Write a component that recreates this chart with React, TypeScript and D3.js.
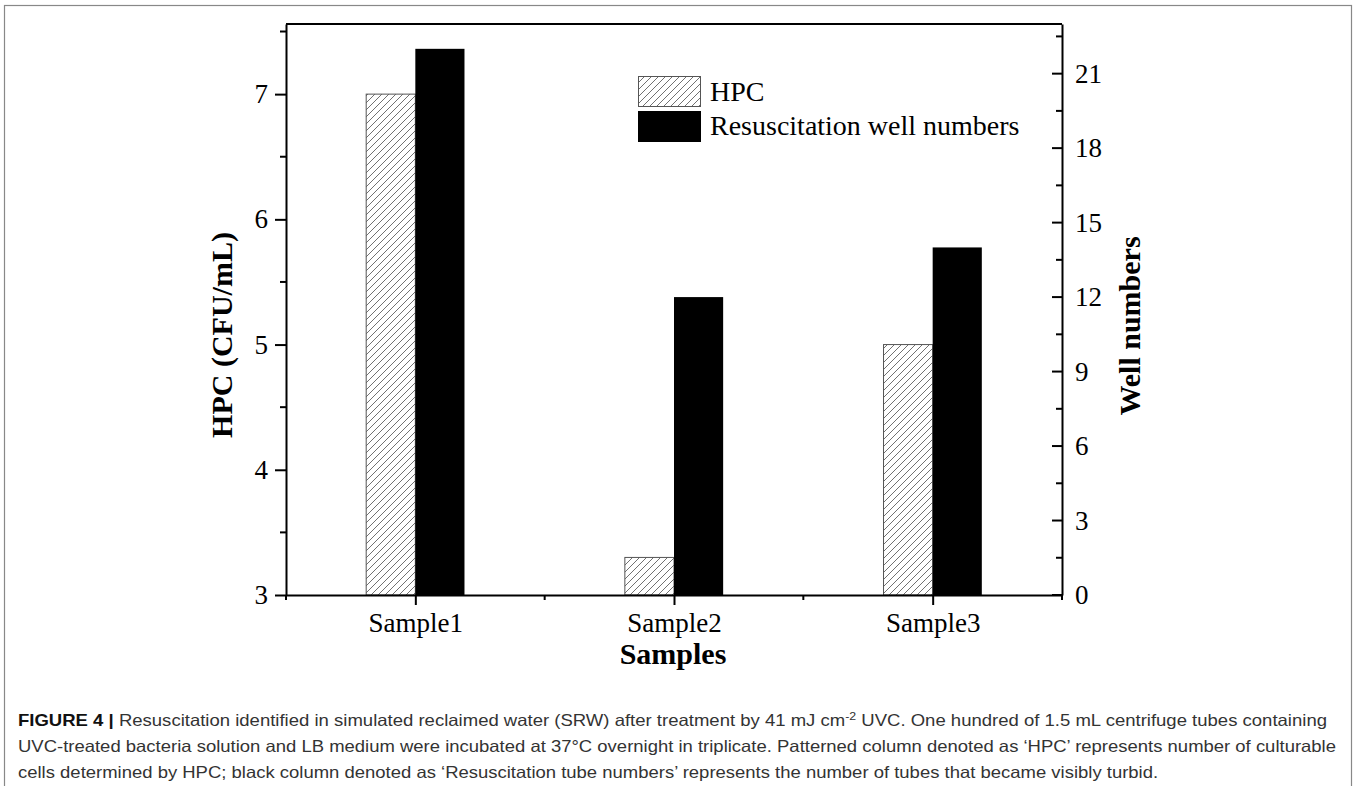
import { useEffect, useRef } from 'react';
import * as d3 from 'd3';

const samples = ['Sample1', 'Sample2', 'Sample3'];
const hpcValues = [7.0, 3.3, 5.0];
const wellValues = [22, 12, 14];
const leftTicks = [3, 4, 5, 6, 7];
const rightTicks = [0, 3, 6, 9, 12, 15, 18, 21];
const legendLabels = ['HPC', 'Resuscitation well numbers'];
const captionLines = [
  ['Resuscitation identified in simulated reclaimed water (SRW) after treatment by 41 mJ cm', '-2', ' UVC. One hundred of 1.5 mL centrifuge tubes containing'],
  ['UVC-treated bacteria solution and LB medium were incubated at 37°C overnight in triplicate. Patterned column denoted as ‘HPC’ represents number of culturable'],
  ['cells determined by HPC; black column denoted as ‘Resuscitation tube numbers’ represents the number of tubes that became visibly turbid.'],
];

const W = 1359;
const H = 786;
const serif = '"Liberation Serif", "Times New Roman", serif';

const App = () => {
  const ref = useRef<SVGSVGElement>(null);

  useEffect(() => {
    const svg = d3.select(ref.current);
    svg.selectAll('*').remove();

    const left = 286, right = 1062, top = 24, bottom = 595;

    const x = d3.scaleLinear().domain([0.5, 3.5]).range([left, right]);
    const yL = d3.scaleLinear().domain([3, 7.56]).range([bottom, top]);
    const yR = d3.scaleLinear().domain([0, 23]).range([bottom, top]);
    const barW = 0.19;

    const defs = svg.append('defs');
    const pat = defs.append('pattern')
      .attr('id', 'hatch')
      .attr('patternUnits', 'userSpaceOnUse')
      .attr('width', 7).attr('height', 7);
    pat.append('rect').attr('width', 7).attr('height', 7).attr('fill', '#fff');
    pat.append('path')
      .attr('d', 'M-1,1 l2,-2 M0,7 l7,-7 M6,8 l2,-2')
      .attr('stroke', '#333').attr('stroke-width', 0.7);

    // outer frame
    svg.append('rect')
      .attr('x', 4.5).attr('y', 5.5).attr('width', 1347).attr('height', 790)
      .attr('fill', 'none').attr('stroke', '#888').attr('stroke-width', 1.2);

    // bars
    svg.selectAll('rect.hpc')
      .data(hpcValues)
      .enter().append('rect')
      .attr('class', 'hpc')
      .attr('x', (_d, i) => x(i + 1 - barW))
      .attr('y', d => yL(d))
      .attr('width', x(1) - x(1 - barW))
      .attr('height', d => bottom - yL(d))
      .attr('fill', 'url(#hatch)')
      .attr('stroke', '#555').attr('stroke-width', 1);

    svg.selectAll('rect.well')
      .data(wellValues)
      .enter().append('rect')
      .attr('class', 'well')
      .attr('x', (_d, i) => x(i + 1))
      .attr('y', d => yR(d))
      .attr('width', x(1 + barW) - x(1))
      .attr('height', d => bottom - yR(d))
      .attr('fill', '#000');

    // top border
    svg.append('line')
      .attr('x1', left).attr('x2', right).attr('y1', top).attr('y2', top)
      .attr('stroke', '#000').attr('stroke-width', 2);

    // left axis
    const gL = svg.append('g').attr('transform', `translate(${left},0)`);
    gL.call(d3.axisLeft(yL).tickValues(leftTicks).tickSize(11).tickSizeOuter(0).tickFormat(d3.format('d')));
    d3.range(3.5, 7.6, 1).forEach(v => {
      gL.append('line').attr('x1', -6).attr('x2', 0).attr('y1', yL(v)).attr('y2', yL(v)).attr('stroke', '#000').attr('stroke-width', 2);
    });

    // right axis (ticks point inward)
    const gR = svg.append('g').attr('transform', `translate(${right},0)`);
    gR.call(d3.axisRight(yR).tickValues(rightTicks).tickSize(0).tickPadding(13).tickSizeOuter(0));
    rightTicks.forEach(v => {
      gR.append('line').attr('x1', -10).attr('x2', 0).attr('y1', yR(v)).attr('y2', yR(v)).attr('stroke', '#000').attr('stroke-width', 2);
    });
    d3.range(1.5, 22.6, 3).forEach(v => {
      gR.append('line').attr('x1', -6).attr('x2', 0).attr('y1', yR(v)).attr('y2', yR(v)).attr('stroke', '#000').attr('stroke-width', 2);
    });

    // bottom axis
    const gB = svg.append('g').attr('transform', `translate(0,${bottom})`);
    gB.call(d3.axisBottom(x).tickValues([1, 2, 3]).tickSize(10).tickPadding(8).tickSizeOuter(0)
      .tickFormat((_d, i) => samples[i]));
    [0.5, 1.5, 2.5, 3.5].forEach(v => {
      gB.append('line').attr('x1', x(v)).attr('x2', x(v)).attr('y1', 0).attr('y2', 5).attr('stroke', '#000').attr('stroke-width', 2);
    });

    [gL, gR, gB].forEach(g => {
      g.selectAll('path.domain').attr('stroke', '#000').attr('stroke-width', 2);
      g.selectAll('.tick line').attr('stroke', '#000').attr('stroke-width', 2);
      g.selectAll('.tick text').attr('fill', '#000').style('font-family', serif).style('font-size', '27px');
    });
    gL.selectAll('.tick text').attr('x', -18);

    // axis titles
    svg.append('text')
      .attr('transform', `translate(232,335) rotate(-90)`)
      .attr('text-anchor', 'middle')
      .style('font-family', serif).style('font-size', '30px').style('font-weight', 'bold')
      .text('HPC (CFU/mL)');
    svg.append('text')
      .attr('transform', `translate(1140,326) rotate(-90)`)
      .attr('text-anchor', 'middle')
      .style('font-family', serif).style('font-size', '30px').style('font-weight', 'bold')
      .text('Well numbers');
    svg.append('text')
      .attr('x', 673).attr('y', 664)
      .attr('text-anchor', 'middle')
      .style('font-family', serif).style('font-size', '30px').style('font-weight', 'bold')
      .text('Samples');

    // legend
    const lg = svg.append('g');
    lg.append('rect').attr('x', 638.5).attr('y', 76.5).attr('width', 62).attr('height', 30)
      .attr('fill', 'url(#hatch)').attr('stroke', '#555').attr('stroke-width', 1);
    lg.append('rect').attr('x', 638).attr('y', 111).attr('width', 63).attr('height', 31).attr('fill', '#000');
    legendLabels.forEach((t, i) => {
      lg.append('text').attr('x', 710).attr('y', 101 + i * 34)
        .style('font-family', serif).style('font-size', '28px').text(t);
    });

    // caption (condensed to the width of the reference lines)
    const cap = svg.append('g')
      .style('font-family', '"Liberation Sans Narrow", "Liberation Sans", Arial, sans-serif')
      .style('font-size', '16.5px')
      .attr('fill', '#333');
    const texts = captionLines.map((parts, i) => {
      const t = cap.append('text').attr('x', 18).attr('y', 726 + i * 26);
      if (i === 0) {
        t.append('tspan').attr('font-weight', 'bold').attr('fill', '#111').text('FIGURE 4 | ');
      }
      parts.forEach((p, j) => {
        if (i === 0 && j === 1) {
          t.append('tspan').attr('dy', -6).style('font-size', '11px').text(p);
        } else if (i === 0 && j === 2) {
          t.append('tspan').attr('dy', 6).text(p);
        } else {
          t.append('tspan').text(p);
        }
      });
      return t;
    });
    const natural = texts.map(t => (t.node() as SVGTextElement).getComputedTextLength());
    const ratio = 1318 / natural[1];
    const targets = [1309, 1318, natural[2] * ratio];
    texts.forEach((t, i) => {
      t.attr('textLength', targets[i]).attr('lengthAdjust', 'spacingAndGlyphs');
    });
  }, []);

  return (
    <div style={{ position: 'absolute', left: 0, top: 0, width: W, height: H, background: '#fff' }}>
      <svg ref={ref} width={W} height={H} style={{ display: 'block' }} />
    </div>
  );
};

export default App;
